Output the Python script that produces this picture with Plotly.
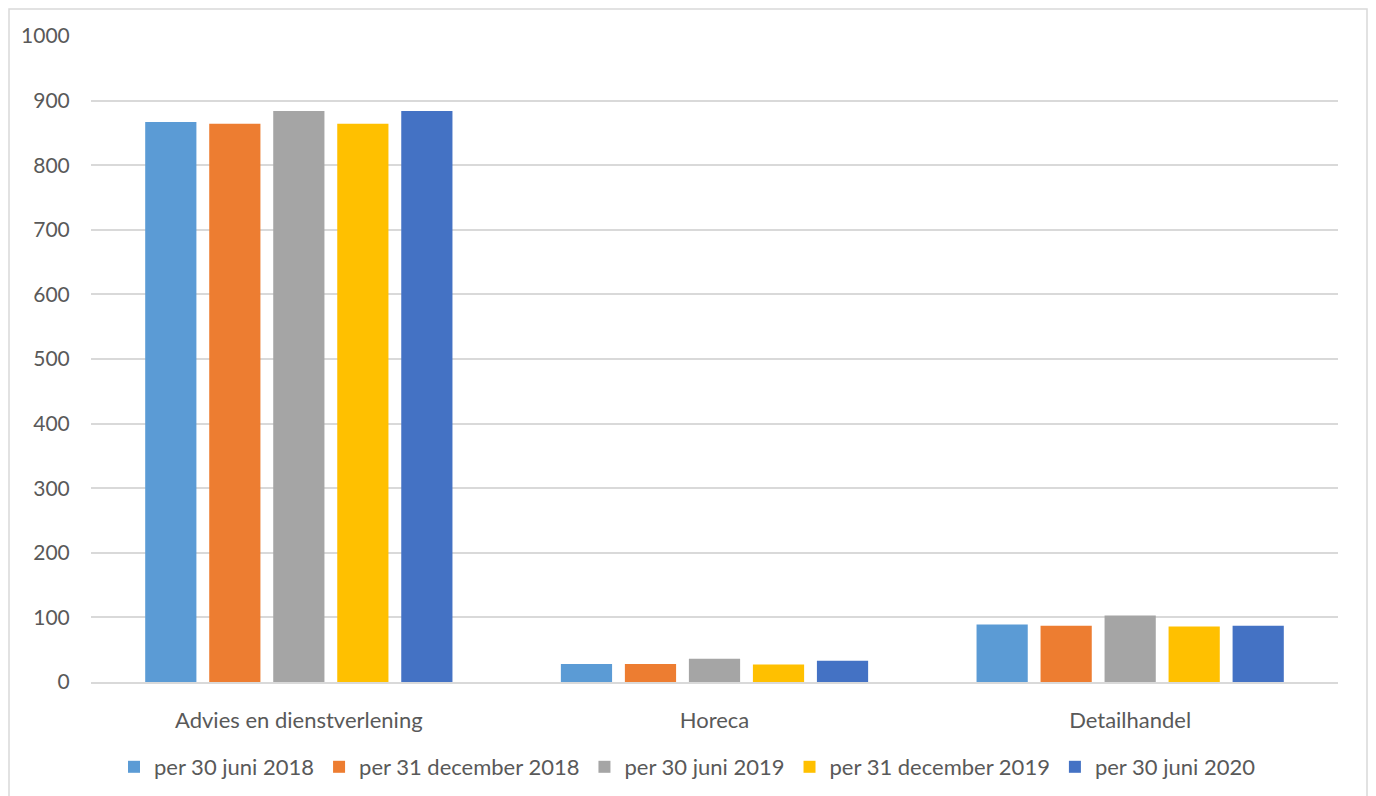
import plotly.graph_objects as go

categories = ["Advies en dienstverlening", "Horeca", "Detailhandel"]
series_names = ["per 30 juni 2018", "per 31 december 2018", "per 30 juni 2019",
                "per 31 december 2019", "per 30 juni 2020"]
values_jun2018 = [867, 28, 89]
values_dec2018 = [864, 28, 87]
values_jun2019 = [884, 36, 103]
values_dec2019 = [864, 27, 86]
values_jun2020 = [884, 33, 87]
colors = ["#5B9BD5", "#ED7D31", "#A5A5A5", "#FFC000", "#4472C4"]

all_values = [values_jun2018, values_dec2018, values_jun2019, values_dec2019, values_jun2020]

fig = go.Figure()
for name, vals, col in zip(series_names, all_values, colors):
    fig.add_trace(go.Bar(x=categories, y=vals, name=name, marker_color=col,
                         marker_line_width=0))

font_family = "Lato, 'Open Sans', sans-serif"
W, H = 1360, 788
L, R, T, B = 83, 30, 28, 114
ph = H - T - B
pw = W - L - R
fig.update_layout(
    width=W, height=H,
    margin=dict(l=L, r=R, t=T, b=B, autoexpand=False),
    paper_bgcolor="white", plot_bgcolor="white",
    barmode="group", bargap=0.23, bargroupgap=0.2,
    font=dict(family=font_family, size=22, color="#595959"),
    showlegend=True,
    legend=dict(orientation="h", x=0.5 - 27 / pw, xanchor="center", y=-85 / ph, yanchor="middle",
                font=dict(size=22, color="#595959"), itemwidth=30,
                tracegroupgap=0),
    yaxis=dict(range=[0, 1000], dtick=100, showgrid=True, gridcolor="#D9D9D9",
               gridwidth=1.5, zeroline=False, ticks="outside", ticklen=16,
               tickcolor="rgba(0,0,0,0)", automargin=False,
               tickfont=dict(size=21, color="#595959")),
    xaxis=dict(showline=True, linecolor="#D9D9D9", linewidth=1.5, ticks="outside",
               ticklen=18, tickcolor="rgba(0,0,0,0)", automargin=False,
               tickfont=dict(size=22, color="#595959")),
    shapes=[dict(type="rect", xref="paper", yref="paper",
                 x0=-(L - 1) / pw, x1=1 + (R - 1) / pw, y0=-(B + 20) / ph, y1=1 + (T - 1) / ph,
                 line=dict(color="#D9D9D9", width=1.5), fillcolor="rgba(0,0,0,0)",
                 layer="below")],
)

fig.write_html("out.html")
